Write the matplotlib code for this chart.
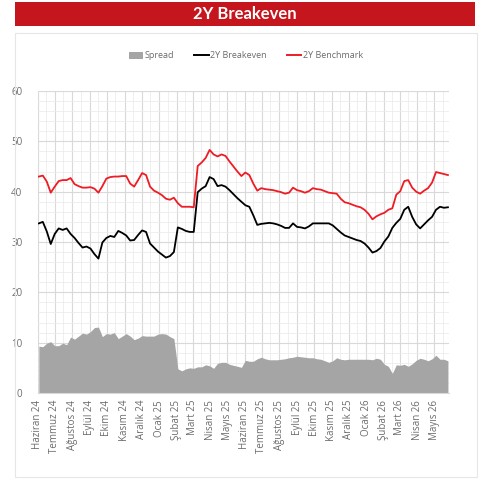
import matplotlib
matplotlib.use("Agg")
import matplotlib.pyplot as plt
from matplotlib.patches import Rectangle
from matplotlib.lines import Line2D
from matplotlib.ticker import MultipleLocator
import datetime as dt

# ---------------- data (weekly readings) ----------------
start_date = dt.date(2024, 6, 3)
n_weeks = 104
dates = [start_date + dt.timedelta(days=7 * i) for i in range(n_weeks)]

benchmark = [43.0, 43.2, 42.0, 39.8, 41.0, 42.1, 42.3, 42.3, 42.7, 41.5,
             41.1, 40.8, 40.8, 40.9, 40.6, 39.8, 41.1, 42.6, 42.9, 43.0,
             43.0, 43.1, 43.1, 41.6, 41.0, 42.3, 43.7, 43.3, 41.0, 40.2,
             39.8, 39.3, 38.6, 38.4, 38.8, 37.7, 37.0, 37.0, 37.0, 36.9,
             45.1, 45.8, 46.7, 48.3, 47.4, 47.0, 47.4, 47.1, 46.0, 45.0,
             44.0, 43.1, 43.8, 43.3, 41.6, 40.2, 40.7, 40.5, 40.4, 40.3,
             40.1, 39.9, 39.6, 39.8, 40.8, 40.3, 40.1, 39.8, 40.1, 40.7,
             40.5, 40.4, 40.1, 39.8, 39.7, 39.6, 38.6, 37.9, 37.7, 37.4,
             37.1, 36.9, 36.4, 35.6, 34.5, 35.1, 35.5, 35.8, 36.4, 36.7,
             39.4, 40.1, 42.1, 42.3, 40.8, 40.0, 39.6, 40.2, 40.7, 41.8,
             43.9, 43.7, 43.5, 43.3]

breakeven = [33.7, 34.0, 32.1, 29.6, 31.6, 32.7, 32.4, 32.7, 31.6, 30.8,
             29.8, 28.9, 29.1, 28.7, 27.6, 26.7, 29.9, 30.8, 31.2, 31.0,
             32.2, 31.8, 31.3, 30.3, 30.4, 31.4, 32.3, 32.0, 29.7, 28.9,
             28.1, 27.5, 26.9, 27.2, 28.0, 32.9, 32.6, 32.2, 32.0, 32.0,
             39.9, 40.6, 41.1, 42.9, 42.5, 41.1, 41.3, 41.0, 40.3, 39.5,
             38.7, 38.0, 37.3, 37.0, 35.3, 33.4, 33.6, 33.7, 33.8, 33.7,
             33.5, 33.2, 32.8, 32.8, 33.7, 33.0, 32.9, 32.7, 33.1, 33.7,
             33.7, 33.7, 33.7, 33.7, 33.3, 32.6, 31.9, 31.3, 31.0, 30.7,
             30.4, 30.2, 29.7, 28.9, 27.9, 28.2, 28.8, 30.1, 31.1, 32.8,
             33.8, 34.6, 36.4, 37.0, 35.0, 33.5, 32.7, 33.5, 34.3, 35.0,
             36.4, 37.0, 36.8, 36.9]

spread = [b - e for b, e in zip(benchmark, breakeven)]

tr_months = ["Ocak", "Şubat", "Mart", "Nisan", "Mayıs", "Haziran",
             "Temmuz", "Ağustos", "Eylül", "Ekim", "Kasım", "Aralık"]
month_starts = []
y, m = 2024, 6
while (y, m) <= (2026, 5):
    month_starts.append(dt.date(y, m, 1))
    m += 1
    if m > 12:
        m = 1
        y += 1
month_labels = [f"{tr_months[d.month - 1]} {d.year % 100}" for d in month_starts]

# ---------------- figure ----------------
W, H = 483, 480
fig = plt.figure(figsize=(W / 100, H / 100), dpi=100)
fig.patch.set_facecolor("white")

def fx(px):
    return px / W

def fy(py):
    return 1 - py / H

# title bar
fig.patches.append(Rectangle((fx(15), fy(26)), fx(475) - fx(15), fy(2) - fy(26),
                             transform=fig.transFigure, facecolor="#c4161c",
                             edgecolor="none", zorder=0))
fig.text(fx(245), fy(14), "2Y Breakeven", ha="center", va="center",
         color="white", fontsize=12, fontweight="bold", family="Lato")

# chart box
fig.patches.append(Rectangle((fx(15), fy(477)), fx(477) - fx(15), fy(33) - fy(477),
                             transform=fig.transFigure, facecolor="none",
                             edgecolor="#e6e6e6", linewidth=0.8, zorder=0))

ax = fig.add_axes([fx(37.7), fy(393), fx(448.5) - fx(37.7), fy(91) - fy(393)])
ax.set_facecolor("white")

ax.fill_between(dates, 0, spread, color="#a5a5a5", linewidth=0, zorder=2)
ax.plot(dates, breakeven, color="black", linewidth=1.3, zorder=3)
ax.plot(dates, benchmark, color="#ee1c24", linewidth=1.3, zorder=4)

ax.set_xlim(dt.date(2024, 6, 1), dt.date(2026, 5, 26))
ax.set_ylim(0, 60)
ax.yaxis.set_major_locator(MultipleLocator(10))
ax.yaxis.set_minor_locator(MultipleLocator(2))
ax.set_xticks(month_starts)
ax.set_xticklabels(month_labels, rotation=90, fontsize=7, color="#6b6b6b",
                   family="Open Sans")
mid_months = [d + dt.timedelta(days=15) for d in month_starts]
ax.set_xticks(mid_months, minor=True)

ax.grid(True, which="major", color="#d9d9d9", linewidth=0.8, zorder=0)
ax.grid(True, which="minor", color="#ececec", linewidth=0.6, zorder=0)
ax.set_axisbelow(True)

for t in ax.get_yticklabels():
    t.set_fontsize(7)
    t.set_color("#6b6b6b")
    t.set_family("Open Sans")
ax.tick_params(axis="both", which="both", length=0)
ax.tick_params(axis="y", pad=11)
ax.tick_params(axis="x", pad=5)

for s in ["top", "right", "left"]:
    ax.spines[s].set_visible(False)
ax.spines["bottom"].set_color("#d9d9d9")
ax.spines["bottom"].set_linewidth(0.8)

handles = [Rectangle((0, 0), 1, 1, facecolor="#a5a5a5", edgecolor="none"),
           Line2D([], [], color="black", linewidth=1.4),
           Line2D([], [], color="#ee1c24", linewidth=1.4)]
leg = fig.legend(handles, ["Spread", "2Y Breakeven", "2Y Benchmark"],
                 loc="center", bbox_to_anchor=(fx(246), fy(56)), ncol=3,
                 frameon=False, handlelength=1.6,
                 handletextpad=0.2, columnspacing=2.2,
                 prop={"family": "Open Sans", "size": 6.5})
for t in leg.get_texts():
    t.set_color("#6b6b6b")

fig.savefig("out.png", dpi=100, facecolor="white")
